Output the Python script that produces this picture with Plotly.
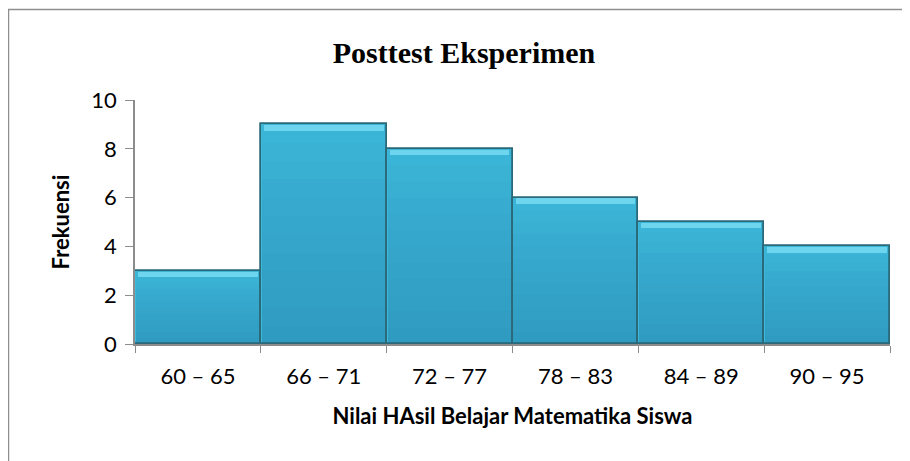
import plotly.graph_objects as go

categories = ["60 – 65", "66 – 71", "72 – 77", "78 – 83", "84 – 89", "90 – 95"]
frekuensi = [3, 9, 8, 6, 5, 4]
y_ticks = [0, 2, 4, 6, 8, 10]

title_text = "Posttest Eksperimen"
x_title = "Nilai HAsil Belajar Matematika Siswa"
y_title = "Frekuensi"

# page body has an 8px margin, so the figure starts at (8, 8) in the window
W, H = 902, 453
L, R, T, B = 127, 20, 92, 117

fig = go.Figure()

# main bars
fig.add_trace(go.Bar(
    x=categories, y=frekuensi,
    marker=dict(color="#3cb8da", line=dict(color="#2b6878", width=1.5)),
    hoverinfo="skip", showlegend=False,
))

# darkening gradient toward the bottom (stacked translucent layers)
n_layers = 12
for k in range(1, n_layers + 1):
    frac = k / n_layers
    fig.add_trace(go.Bar(
        x=categories, y=[v * frac for v in frekuensi],
        marker=dict(color="rgba(30,90,110,0.025)", line=dict(width=0)),
        width=0.985, hoverinfo="skip", showlegend=False,
    ))

# bevel highlight at top edge
bevel = 0.22
fig.add_trace(go.Bar(
    x=categories, y=[bevel] * len(frekuensi),
    base=[v - bevel - 0.03 for v in frekuensi],
    marker=dict(color="#6dd5ee", line=dict(width=0)),
    width=0.95, hoverinfo="skip", showlegend=False,
))

# re-draw outlines on top
fig.add_trace(go.Bar(
    x=categories, y=frekuensi,
    marker=dict(color="rgba(0,0,0,0)", line=dict(color="#2b6878", width=1.5)),
    hoverinfo="skip", showlegend=False,
))

fig.update_layout(
    width=W, height=H,
    margin=dict(l=L, r=R, t=T, b=B),
    paper_bgcolor="white", plot_bgcolor="white",
    barmode="overlay", bargap=0,
    font=dict(family="Lato, Open Sans, sans-serif", size=22, color="black"),
    title=dict(
        text="<b>" + title_text + "</b>",
        font=dict(family="Liberation Serif, Times New Roman, serif", size=30, color="black"),
        x=456 / W, xref="container", xanchor="center",
        y=1 - 44 / H, yref="container", yanchor="middle",
    ),
    xaxis=dict(
        type="category",
        showline=True, linecolor="#8c8c8c", linewidth=1.5,
        ticks="outside", tickson="boundaries", ticklen=7, tickcolor="#8c8c8c",
        ticklabelstandoff=12,
        showgrid=False, zeroline=False,
        title=dict(text="<b>" + x_title + "</b>", font=dict(size=22), standoff=20),
    ),
    yaxis=dict(
        range=[0, 10], tickvals=y_ticks,
        showline=True, linecolor="#8c8c8c", linewidth=1.5,
        ticks="outside", ticklen=8, tickcolor="#8c8c8c",
        ticklabelstandoff=4,
        showgrid=False, zeroline=False,
        title=dict(text="<b>" + y_title + "</b>", font=dict(size=22), standoff=16),
    ),
    shapes=[dict(
        type="rect", xref="paper", yref="paper",
        x0=(0.5 - L) / (W - L - R), x1=(W + 10 - L) / (W - L - R),
        y0=-(B + 10) / (H - T - B), y1=1 + (T - 1.5) / (H - T - B),
        line=dict(color="#8f8f8f", width=1.5), fillcolor="rgba(0,0,0,0)",
        layer="above",
    )],
)

fig.write_html("out.html")
